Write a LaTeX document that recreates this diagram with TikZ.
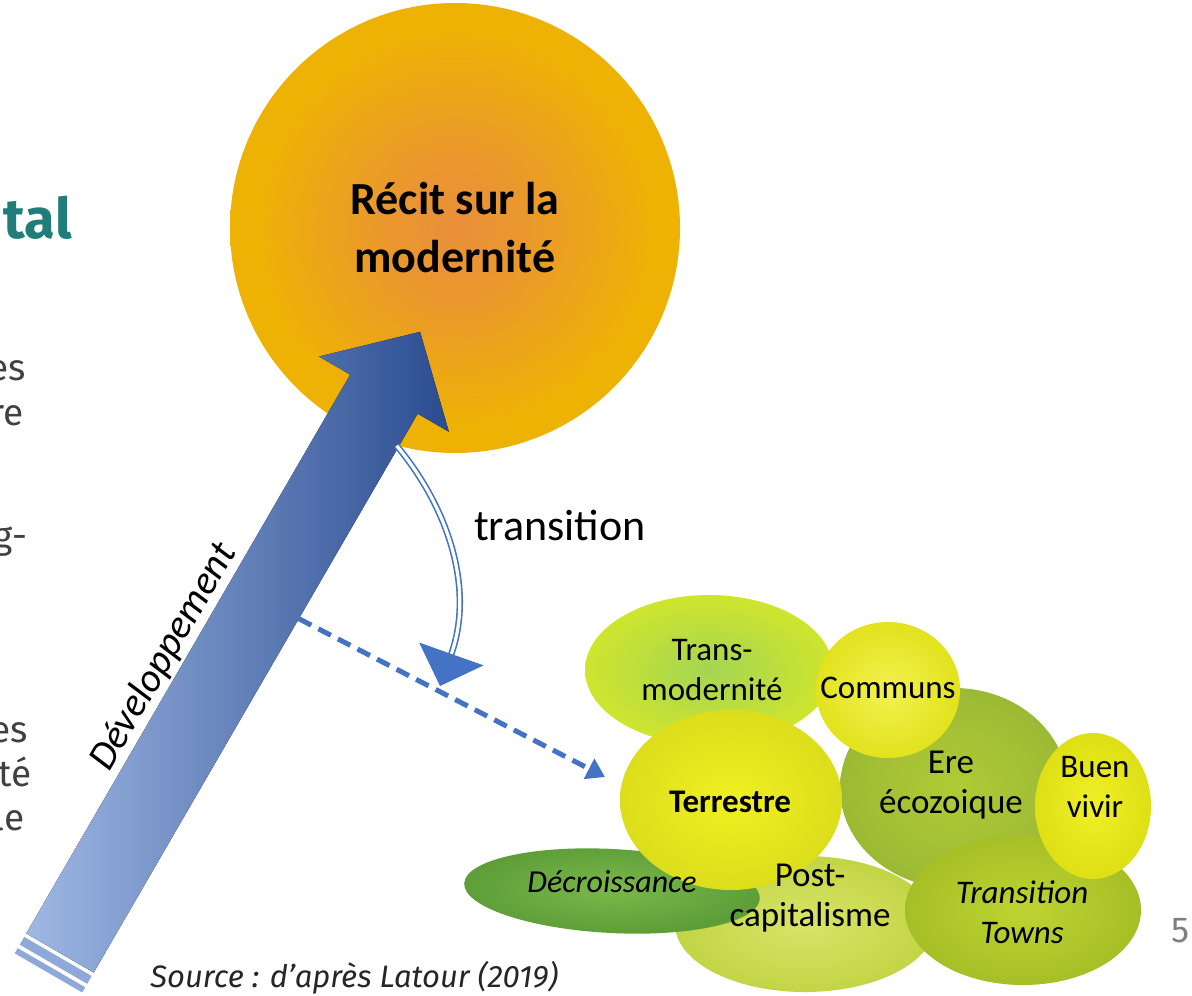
\documentclass[tikz,border=0pt]{standalone}
\usepackage{fontspec}
\setmainfont{Carlito}
\newfontfamily\slidefont{Fira Sans}
\usetikzlibrary{shapes.geometric,arrows.meta}

\definecolor{recitInner}{HTML}{E98F3A}
\definecolor{recitOuter}{HTML}{EEB205}
\definecolor{devLight}{HTML}{9FB8E4}
\definecolor{devDark}{HTML}{2A4C90}
\definecolor{flowBlue}{HTML}{4472C4}
\definecolor{titleTeal}{HTML}{217D79}
\definecolor{slideGray}{HTML}{404040}
\definecolor{pageGray}{HTML}{7F7F7F}
\definecolor{transInner}{HTML}{A4D551}
\definecolor{transOuter}{HTML}{CFE52E}
\definecolor{communsInner}{HTML}{F2F250}
\definecolor{communsOuter}{HTML}{E2E21E}
\definecolor{ereInner}{HTML}{B0CB35}
\definecolor{ereOuter}{HTML}{9CB935}
\definecolor{terreInner}{HTML}{F0F020}
\definecolor{terreOuter}{HTML}{DCDE1C}
\definecolor{buenInner}{HTML}{F0F028}
\definecolor{buenOuter}{HTML}{DEDF14}
\definecolor{townsInner}{HTML}{BDD430}
\definecolor{townsOuter}{HTML}{A6BF26}
\definecolor{postInner}{HTML}{D8E468}
\definecolor{postOuter}{HTML}{C2D545}
\definecolor{decroInner}{HTML}{7AB84A}
\definecolor{decroOuter}{HTML}{5E9E38}

\pgfdeclareradialshading{recitShade}{\pgfpoint{0bp}{0bp}}{%
  color(0bp)=(recitInner); color(8bp)=(recitInner!75!recitOuter);
  color(22bp)=(recitOuter); color(50bp)=(recitOuter); color(100bp)=(recitOuter)}

\tikzset{
  bubble/.style={ellipse,inner sep=0pt,shading=radial},
  txt/.style={align=center,inner sep=0pt,font=\fontsize{16.5}{20}\selectfont},
  side/.style={anchor=base east,inner sep=0pt,text=slideGray,
    font=\slidefont\fontsize{18.5}{22}\selectfont},
  trans/.style={draw=flowBlue,double=white,line width=0.8pt,double distance=1.6pt,
    -{Triangle[length=17pt,width=34pt]}},
  dashArrow/.style={flowBlue,line width=2.5pt,dash pattern=on 7pt off 4pt,
    -{Triangle[length=9pt,width=11pt]}}
}

\begin{document}
\begin{tikzpicture}[x=0.5pt,y=-0.5pt]
\useasboundingbox (0,0) rectangle (1192,995);

% bord de la diapositive
\node[anchor=base east,inner sep=0pt,text=titleTeal,
  font=\slidefont\bfseries\fontsize{28}{32}\selectfont] (titre) at (72,238) {tal};
\node[side] (ligneA) at (26,380) {es};
\node[side] (ligneB) at (24,425) {re};
\node[side] (ligneC) at (28,548) {g-};
\node[side] (ligneD) at (28,742) {es};
\node[side] (ligneE) at (32,786) {té};
\node[side] (ligneF) at (25,830) {le};

% le récit
\node[circle,minimum size=225pt,inner sep=0pt,shading=recitShade,align=center,
  font=\bfseries\fontsize{23}{29}\selectfont] (recit) at (455,228) {Récit sur la\\modernité};

% la flèche du développement
\begin{scope}[shift={(60,953)},rotate=59.9]
\fill[left color=devLight,right color=devDark]
  (0,-39) -- (646,-39) -- (646,-75) -- (718,0) -- (646,75) -- (646,39) -- (0,39) -- cycle;
\fill[devLight!85!devDark] (-4,-39) -- (-13,-39) -- (-13,39) -- (-4,39) -- cycle;
\fill[devLight!85!devDark] (-17,-39) -- (-23,-39) -- (-23,39) -- (-17,39) -- cycle;
\node[transform shape,anchor=base,inner sep=0pt,
  font=\itshape\fontsize{20}{22}\selectfont] (devLabel) at (308,-48) {Développement};
\coordinate (devEdge) at (409,39);
\end{scope}

% les bulles
\node[bubble,minimum width=124pt,minimum height=75pt,inner color=transInner,outer color=transOuter] (transmod) at (709,670) {};
\node[bubble,minimum width=114pt,minimum height=100pt,inner color=ereInner,outer color=ereOuter] (ere) at (954,788) {};
\node[bubble,minimum width=130pt,minimum height=68pt,inner color=postInner,outer color=postOuter] (post) at (805,924) {};
\node[bubble,rotate=-3,minimum width=148pt,minimum height=42pt,inner color=decroInner,outer color=decroOuter] (decro) at (612,891) {};
\node[bubble,minimum width=72pt,minimum height=68pt,inner color=communsInner,outer color=communsOuter] (communs) at (888,690) {};
\node[bubble,minimum width=111pt,minimum height=90pt,inner color=terreInner,outer color=terreOuter] (terre) at (731,800) {};
\node[bubble,minimum width=118pt,minimum height=75pt,inner color=townsInner,outer color=townsOuter] (towns) at (1023,910) {};
\node[bubble,minimum width=58pt,minimum height=73pt,inner color=buenInner,outer color=buenOuter] (buen) at (1093,806) {};

\node[txt] (transmodTxt) at (712,670) {Trans-\\modernité};
\node[txt] (communsTxt) at (888,688) {Communs};
\node[txt,font=\fontsize{17.5}{20}\selectfont] (ereTxt) at (951,785) {Ere\\écozoique};
\node[txt,font=\bfseries\fontsize{16.5}{20}\selectfont] (terreTxt) at (730,802) {Terrestre};
\node[txt] (buenTxt) at (1095,787) {Buen\\vivir};
\node[txt,font=\itshape\fontsize{16.5}{20}\selectfont] (townsTxt) at (1022,912) {Transition\\Towns};
\node[txt,font=\fontsize{17.5}{20}\selectfont] (postTxt) at (810,898) {Post-\\capitalisme};
\node[txt,font=\itshape\fontsize{16}{20}\selectfont] (decroTxt) at (612,882) {Décroissance};

% la transition
\coordinate (transEnd) at (440,686);
\draw[trans] (recit.255) .. controls (450,510) and (474,590) .. (transEnd);
\node[inner sep=0pt,font=\fontsize{22}{26}\selectfont] (transLabel) at (560,525) {transition};
\coordinate (dashEnd) at (605,777);
\draw[dashArrow] (devEdge) -- (dashEnd);

% source et page
\node[anchor=base west,inner sep=0pt,text=black!85,
  font=\slidefont\itshape\fontsize{15.5}{18}\selectfont] (source) at (150,987) {Source : d’après Latour (2019)};
\node[anchor=base east,inner sep=0pt,text=pageGray,
  font=\slidefont\fontsize{18}{20}\selectfont] (page) at (1190,942) {5};
\end{tikzpicture}
\end{document}
